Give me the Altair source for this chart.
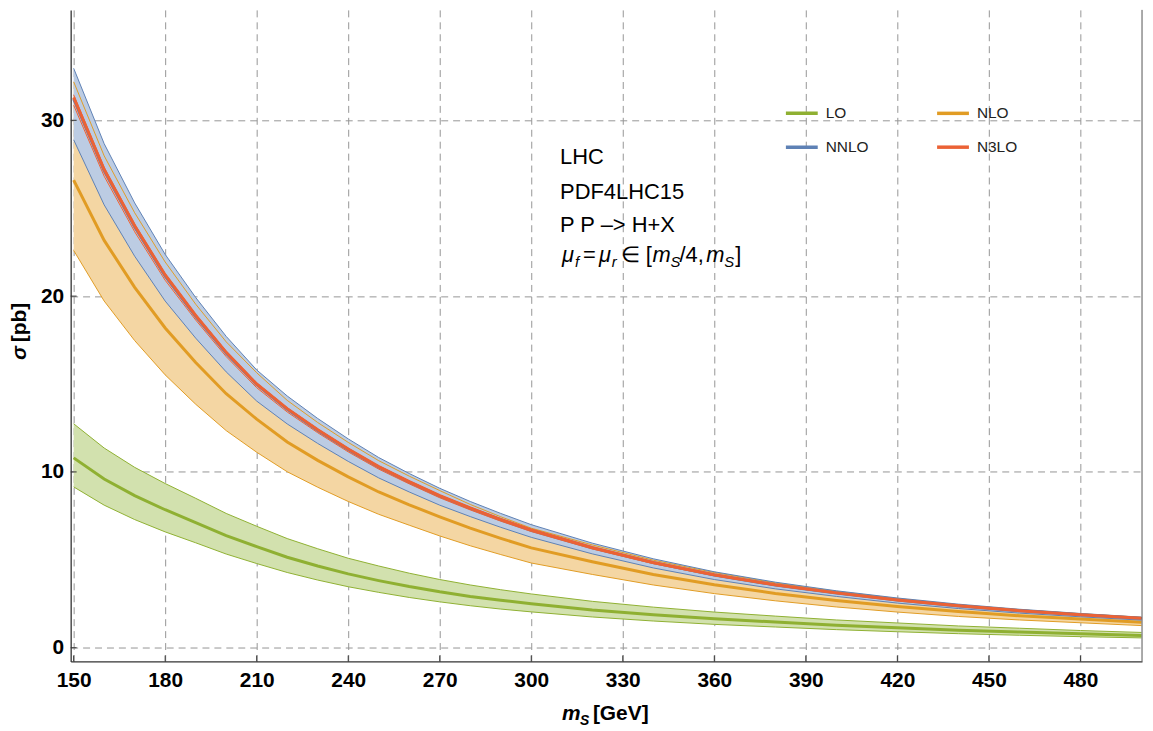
import altair as alt
import pandas as pd

# ---------------- data ----------------
mass = [150, 160, 170, 180, 190, 200, 210, 220, 230, 240, 250, 260, 270, 280,
        290, 300, 320, 340, 360, 380, 400, 420, 440, 460, 480, 500]

lo_central = [10.8, 9.6, 8.65, 7.85, 7.12, 6.38, 5.75, 5.15, 4.65, 4.2, 3.82, 3.48, 3.18, 2.92,
              2.7, 2.5, 2.15, 1.88, 1.65, 1.46, 1.28, 1.14, 1.0, 0.89, 0.79, 0.70]
lo_high = [12.74, 11.36, 10.26, 9.34, 8.5, 7.64, 6.91, 6.21, 5.63, 5.09, 4.65, 4.24, 3.88, 3.57,
           3.3, 3.06, 2.64, 2.31, 2.03, 1.8, 1.58, 1.41, 1.24, 1.11, 0.98, 0.87]
lo_low = [9.15, 8.11, 7.29, 6.59, 5.97, 5.33, 4.79, 4.28, 3.85, 3.47, 3.15, 2.86, 2.61, 2.39,
          2.2, 2.04, 1.75, 1.52, 1.33, 1.18, 1.03, 0.91, 0.8, 0.71, 0.63, 0.56]

nlo_central = [26.6, 23.17, 20.5, 18.19, 16.22, 14.45, 13.0, 11.7, 10.66, 9.72, 8.86, 8.13, 7.45, 6.8,
               6.22, 5.68, 4.89, 4.17, 3.58, 3.09, 2.69, 2.35, 2.06, 1.82, 1.63, 1.45]
nlo_high = [32.19, 27.98, 24.74, 21.94, 19.54, 17.4, 15.64, 14.07, 12.81, 11.68, 10.64, 9.76, 8.94, 8.15,
            7.45, 6.8, 5.85, 4.98, 4.28, 3.69, 3.21, 2.8, 2.45, 2.17, 1.94, 1.73]
nlo_low = [22.6, 19.72, 17.47, 15.52, 13.85, 12.35, 11.12, 10.01, 9.13, 8.32, 7.59, 6.97, 6.36, 5.8,
           5.3, 4.82, 4.17, 3.57, 3.08, 2.67, 2.32, 2.03, 1.78, 1.58, 1.42, 1.26]

nnlo_central = [31.21, 27.12, 23.93, 21.14, 18.84, 16.75, 14.96, 13.56, 12.36, 11.27, 10.27, 9.42, 8.62, 7.93,
                7.28, 6.68, 5.68, 4.84, 4.14, 3.57, 3.11, 2.71, 2.38, 2.1, 1.87, 1.67]
nnlo_high = [32.96, 28.67, 25.3, 22.37, 19.92, 17.71, 15.8, 14.32, 13.04, 11.88, 10.82, 9.91, 9.07, 8.32,
             7.64, 7.0, 5.95, 5.06, 4.32, 3.73, 3.24, 2.83, 2.48, 2.19, 1.95, 1.74]
nnlo_low = [28.89, 25.19, 22.27, 19.72, 17.61, 15.69, 14.03, 12.73, 11.62, 10.6, 9.66, 8.86, 8.11, 7.46,
            6.85, 6.28, 5.34, 4.54, 3.88, 3.35, 2.92, 2.54, 2.23, 1.97, 1.76, 1.57]

n3lo_central = [31.3, 27.2, 24.0, 21.2, 18.9, 16.8, 15.0, 13.6, 12.4, 11.3, 10.3, 9.45, 8.65, 7.95,
                7.3, 6.7, 5.7, 4.85, 4.15, 3.58, 3.12, 2.72, 2.39, 2.11, 1.88, 1.68]
n3lo_high = [31.45, 27.32, 24.1, 21.28, 18.97, 16.87, 15.06, 13.65, 12.45, 11.34, 10.34, 9.49, 8.68, 7.98,
             7.33, 6.73, 5.72, 4.87, 4.17, 3.59, 3.13, 2.73, 2.4, 2.12, 1.89, 1.69]
n3lo_low = [30.86, 26.82, 23.66, 20.9, 18.64, 16.56, 14.79, 13.41, 12.23, 11.14, 10.16, 9.32, 8.53, 7.84,
            7.2, 6.61, 5.62, 4.78, 4.09, 3.53, 3.08, 2.68, 2.36, 2.08, 1.85, 1.66]

orders = ["LO", "NLO", "NNLO", "N3LO"]
line_colors = ["#8fb032", "#e19c24", "#5e81b5", "#eb6235"]
fill_colors = ["#d2e1ae", "#f4d6a3", "#bccce3", "#f6c3b0"]
x_ticks = [150, 180, 210, 240, 270, 300, 330, 360, 390, 420, 450, 480]
y_ticks = [0, 10, 20, 30]

series = {
    "LO": (lo_central, lo_low, lo_high),
    "NLO": (nlo_central, nlo_low, nlo_high),
    "NNLO": (nnlo_central, nnlo_low, nnlo_high),
    "N3LO": (n3lo_central, n3lo_low, n3lo_high),
}
frames = {}
for o in orders:
    c, lo_, hi_ = series[o]
    frames[o] = pd.DataFrame({"mass": mass, "order": o, "central": c, "low": lo_, "high": hi_})

# ---------------- chart ----------------
W, H = 1077, 655
FONT = "Liberation Sans"

xscale = alt.Scale(domain=[149.02, 500.2], nice=False, zero=False)
yscale = alt.Scale(domain=[-0.78, 36.28], nice=False, zero=False)
stroke_scale = alt.Scale(domain=orders, range=line_colors)
fill_scale = alt.Scale(domain=orders, range=fill_colors)

common_axis = dict(title=None, grid=True, ticks=False, labelFlush=False,
                   labelFontSize=21, labelFontWeight="bold", labelFont=FONT, labelColor="#000",
                   domainColor="#333", domainWidth=1.3, gridColor="#959595",
                   gridDash=[7, 5], gridWidth=1, format="d")
xaxis = alt.Axis(values=x_ticks, labelPadding=8, **common_axis)
yaxis = alt.Axis(values=y_ticks, labelPadding=7, **common_axis)

X = alt.X("mass:Q", scale=xscale, axis=xaxis)

layers = []
for o in orders:
    layers.append(
        alt.Chart(frames[o]).mark_area(opacity=1).encode(
            x=X,
            y=alt.Y("low:Q", scale=yscale, axis=yaxis),
            y2="high:Q",
            fill=alt.Fill("order:N", scale=fill_scale, legend=None),
        )
    )
for o in orders:
    for field, w in [("low", 1), ("high", 1), ("central", 3)]:
        layers.append(
            alt.Chart(frames[o]).mark_line(strokeWidth=w).encode(
                x=X,
                y=alt.Y(f"{field}:Q", scale=yscale, axis=yaxis),
                stroke=alt.Stroke("order:N", scale=stroke_scale, legend=None),
            )
        )

# inward frame ticks
layers.append(
    alt.Chart(pd.DataFrame({"mass": x_ticks})).mark_rule(color="#333").encode(
        x=X, y=alt.value(H), y2=alt.value(H - 6))
)
layers.append(
    alt.Chart(pd.DataFrame({"central": y_ticks})).mark_rule(color="#333").encode(
        y=alt.Y("central:Q", scale=yscale, axis=yaxis), x=alt.value(0), x2=alt.value(6))
)
# right frame edge
layers.append(
    alt.Chart(alt.Data(values=[{}])).mark_rule(color="#555").encode(
        x=alt.value(W), y=alt.value(0), y2=alt.value(H))
)


def txt(s, x, y, size, weight="normal", style="normal", angle=0, baseline="alphabetic", color="#000"):
    return alt.Chart(alt.Data(values=[{}])).mark_text(
        text=s, font=FONT, fontSize=size, fontWeight=weight, fontStyle=style,
        align="left", baseline=baseline, angle=angle, color=color,
    ).encode(x=alt.value(x), y=alt.value(y))


# legend (two columns, drawn in the top-right)
legend_pos = {"LO": (719, 104), "NLO": (871, 104), "NNLO": (719, 138), "N3LO": (871, 138)}
for o, col in zip(orders, line_colors):
    lx, ly = legend_pos[o]
    layers.append(
        alt.Chart(alt.Data(values=[{}])).mark_rule(color=col, strokeWidth=3.5).encode(
            x=alt.value(lx), x2=alt.value(lx + 32), y=alt.value(ly))
    )
    layers.append(txt(o, lx + 40, ly, 15.5, baseline="middle", color="#222"))

# annotation block
layers += [
    txt("LHC", 492, 155, 22),
    txt("PDF4LHC15", 492, 190, 22),
    txt("P P –> H+X", 492, 223, 22),
    txt("μ", 494, 253, 22, style="italic"),
    txt("f", 507, 258, 15, style="italic"),
    txt("=", 515, 253, 22),
    txt("μ", 531, 253, 22, style="italic"),
    txt("r", 544, 258, 15, style="italic"),
    txt("∈", 553, 253, 22),
    txt("[", 578, 253, 22),
    txt("m", 585, 253, 22, style="italic"),
    txt("S", 603, 258, 15, style="italic"),
    txt("/4,", 612, 253, 22),
    txt("m", 639, 253, 22, style="italic"),
    txt("S", 657, 258, 15, style="italic"),
    txt("]", 668, 253, 22),
]
# axis titles
layers += [
    txt("m", 494, 714, 21, weight="bold", style="italic"),
    txt("S", 512, 719, 14, weight="bold", style="italic"),
    txt("[GeV]", 525, 714, 21, weight="bold"),
    txt("σ", -45, 352, 21, weight="bold", style="italic", angle=270),
    txt("[pb]", -45, 334, 21, weight="bold", angle=270),
]

chart = alt.layer(*layers).properties(
    width=W, height=H,
    autosize=alt.AutoSizeParams(type="none"),
    padding={"left": 63, "top": 0, "right": 3, "bottom": 68},
).configure_view(stroke=None)

chart.save("out.html", embed_options={"renderer": "svg", "actions": False})
